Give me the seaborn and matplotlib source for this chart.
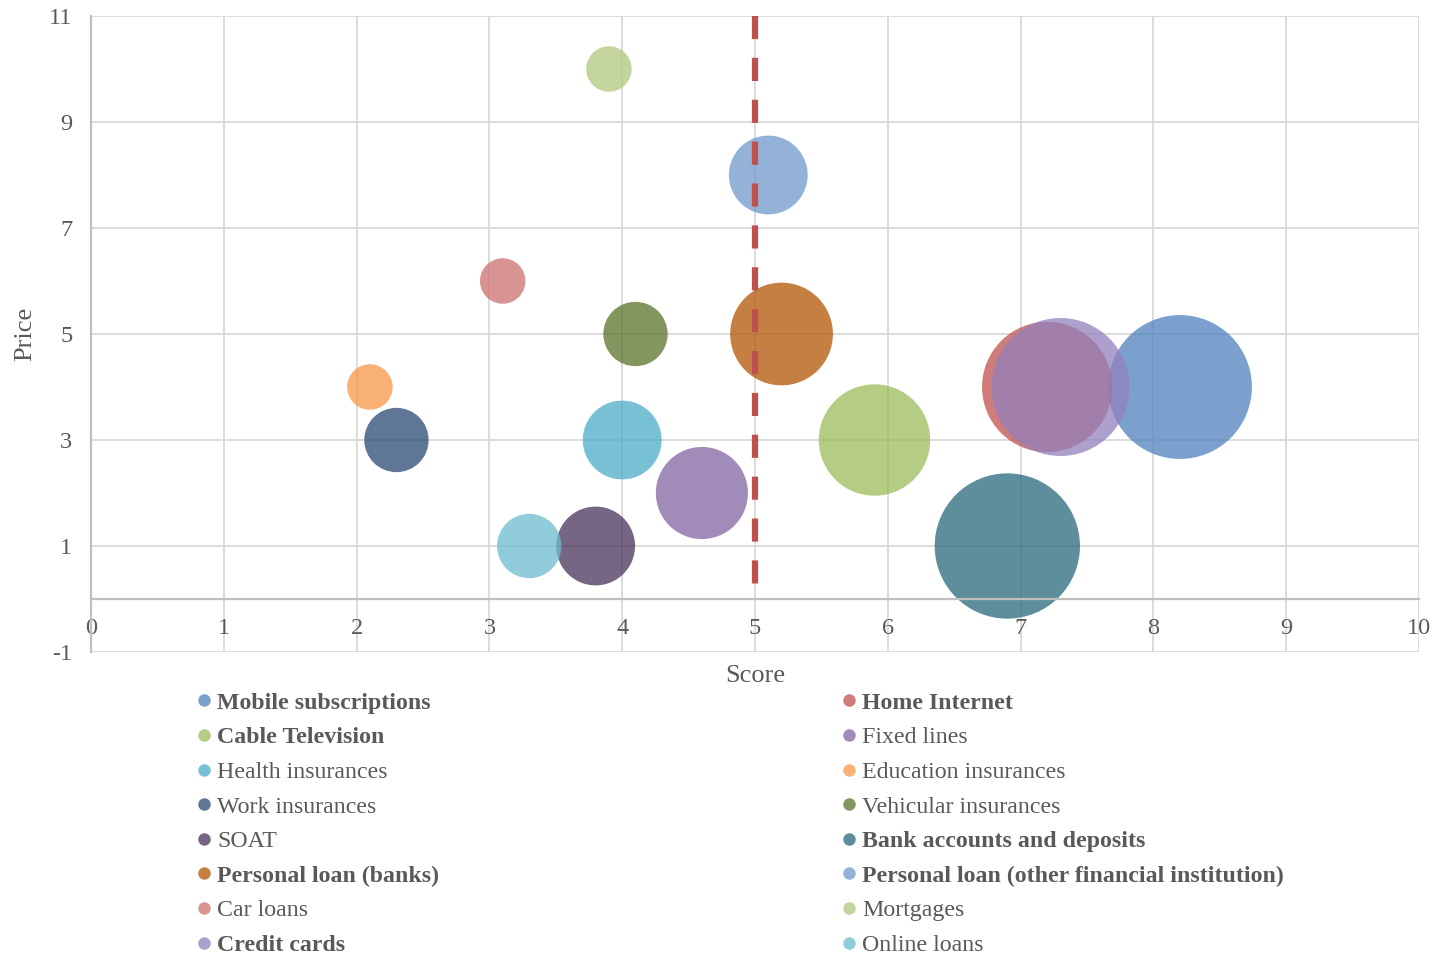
import numpy as np
import pandas as pd
import matplotlib
matplotlib.use('Agg')
import matplotlib.pyplot as plt
from matplotlib.lines import Line2D
import seaborn as sns

# ---------------- data ----------------
categories = [
    "Mobile subscriptions", "Home Internet", "Cable Television", "Fixed lines",
    "Health insurances", "Education insurances", "Work insurances", "Vehicular insurances",
    "SOAT", "Bank accounts and deposits", "Personal loan (banks)",
    "Personal loan (other financial institution)", "Car loans", "Mortgages",
    "Credit cards", "Online loans",
]
score = [8.2, 7.2, 5.9, 4.6, 4.0, 2.1, 2.3, 4.1, 3.8, 6.9, 5.2, 5.1, 3.1, 3.9, 7.3, 3.3]
price = [4, 4, 3, 2, 3, 4, 3, 5, 1, 1, 5, 8, 6, 10, 4, 1]
bubble_size = [10.0, 8.2, 6.0, 4.1, 3.0, 1.0, 2.0, 2.0, 3.0, 10.2, 5.1, 3.0, 1.0, 1.0, 9.2, 2.0]
bold_labels = [
    "Mobile subscriptions", "Home Internet", "Cable Television",
    "Bank accounts and deposits", "Personal loan (banks)",
    "Personal loan (other financial institution)", "Credit cards",
]
colors = [
    "#4F81BD", "#C0504D", "#9BBB59", "#8064A2", "#4BACC6", "#F79646",
    "#2A4A73", "#5B732B", "#493359", "#28697B", "#B45403",
    "#7199CB", "#CC716F", "#AFC87D", "#9381BC", "#6DBCD0",
]
threshold_score = 5
threshold_price_range = [0, 11]
xticks = list(range(0, 11))
yticks = [-1, 1, 3, 5, 7, 9, 11]

# ---------------- style ----------------
sns.set_style("white")
plt.rcParams["font.family"] = ["Liberation Serif", "DejaVu Serif"]
plt.rcParams["axes.unicode_minus"] = False
TEXT = "#595959"
GRID = "#D9D9D9"
AXIS = "#BFBFBF"

W, H = 1436, 958
fig = plt.figure(figsize=(W / 100, H / 100), dpi=100)
ax = fig.add_axes([91 / W, 1 - 652 / H, 1328 / W, 636 / H])

df = pd.DataFrame({"category": categories, "score": score, "price": price, "size": bubble_size})
BASE = 1073.0  # pt^2 per bubble unit
smin, smax = min(bubble_size), max(bubble_size)
sns.scatterplot(
    data=df, x="score", y="price", hue="category",
    palette=dict(zip(categories, colors)), hue_order=categories,
    size="size", sizes=(BASE * smin, BASE * smax), size_norm=(smin, smax),
    alpha=0.75, linewidth=0, legend=False, ax=ax, zorder=2,
)

# reference line
ax.plot([threshold_score, threshold_score], threshold_price_range[::-1],
        color="#C0504D", lw=4.5, linestyle=(0, (3.7, 3.0)), zorder=3,
        solid_capstyle="butt", dash_capstyle="butt")

ax.set_xlim(0, 10)
ax.set_ylim(-1, 11)
ax.set_xticks(xticks)
ax.set_yticks(yticks)
ax.grid(True, color=GRID, lw=1.3)
ax.set_axisbelow(True)
for s in ["top", "right"]:
    ax.spines[s].set_visible(False)
ax.spines["left"].set_color(AXIS)
ax.spines["left"].set_linewidth(1.6)
ax.spines["bottom"].set_position(("data", 0))
ax.spines["bottom"].set_color(AXIS)
ax.spines["bottom"].set_linewidth(1.6)
ax.tick_params(axis="both", length=0, labelsize=17.5, labelcolor=TEXT)
ax.tick_params(axis="x", pad=14)
ax.tick_params(axis="y", pad=13.5)

ax.set_xlabel("Score", fontsize=19, color=TEXT)
ax.set_ylabel("Price", fontsize=19, color=TEXT)
ax.xaxis.set_label_coords(0.5, -0.021)
ax.yaxis.set_label_coords(-0.041, 0.5)

# ---------------- legend ----------------
def handle(c):
    return Line2D([], [], marker="o", linestyle="", markersize=9,
                  markerfacecolor=c, markeredgewidth=0, alpha=0.75)

def make_legend(idx, x_px):
    leg = fig.legend(
        [handle(colors[i]) for i in idx], [categories[i] for i in idx],
        loc="upper left", bbox_to_anchor=(x_px / W, 1 - 692 / H),
        frameon=False, fontsize=17.2, handlelength=0.5, handletextpad=0.3,
        labelspacing=0.54, borderpad=0, borderaxespad=0,
    )
    for t in leg.get_texts():
        t.set_color(TEXT)
        if t.get_text() in bold_labels:
            t.set_fontweight("bold")
    return leg

make_legend(list(range(0, 16, 2)), 198)
make_legend(list(range(1, 16, 2)), 843)

fig.savefig("out.png", dpi=100)
